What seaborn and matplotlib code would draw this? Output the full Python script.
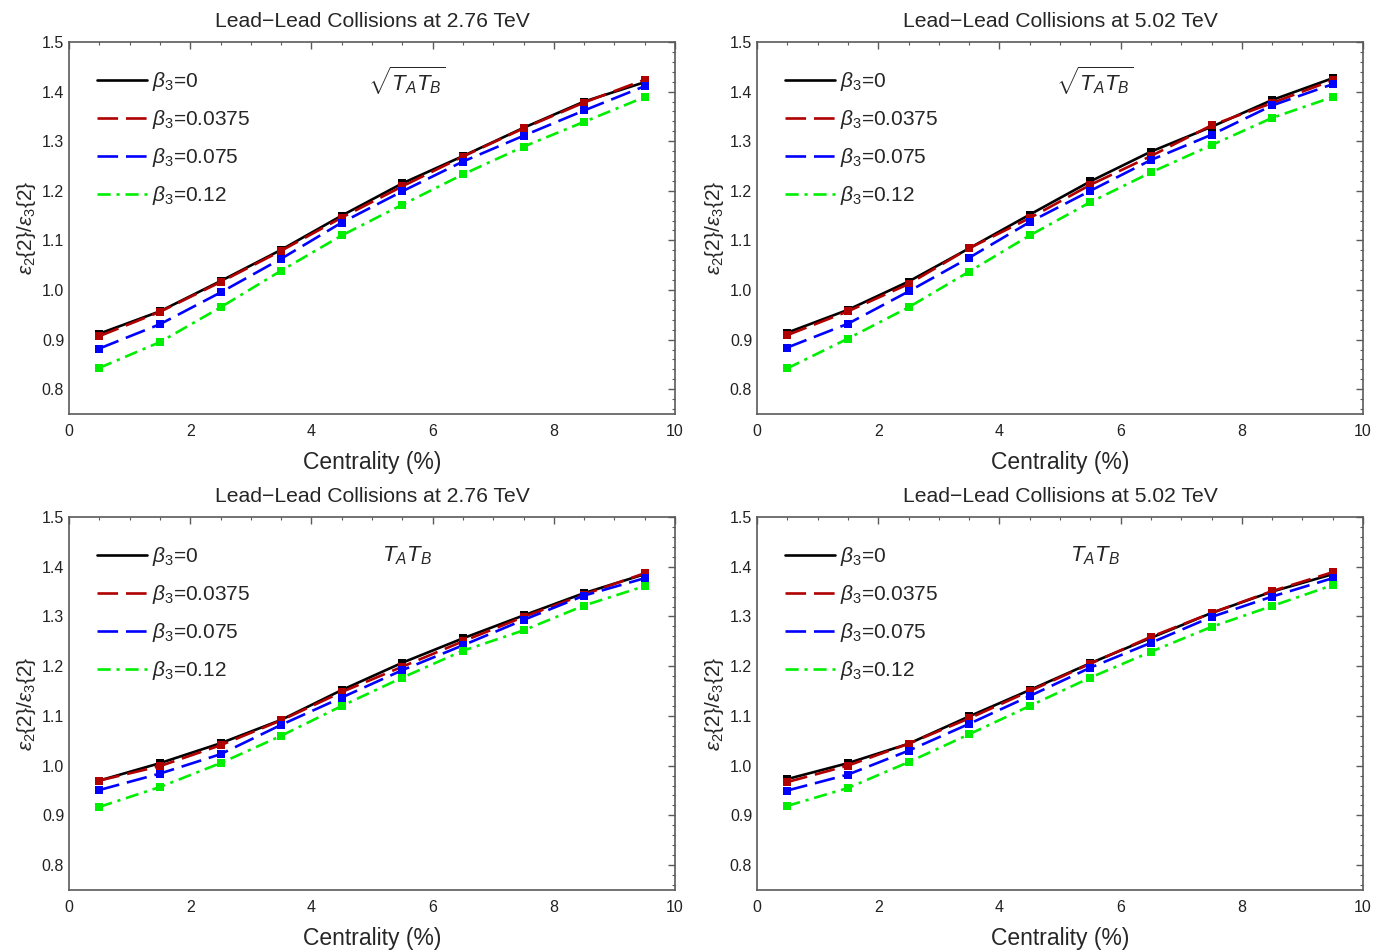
import numpy as np
import pandas as pd
import matplotlib
matplotlib.use('Agg')
import matplotlib.pyplot as plt
from matplotlib.lines import Line2D
from matplotlib.ticker import MultipleLocator, FormatStrFormatter
import seaborn as sns

# 数据
centrality = [0.5, 1.5, 2.5, 3.5, 4.5, 5.5, 6.5, 7.5, 8.5, 9.5]
betas = ['0', '0.0375', '0.075', '0.12']

# sqrt(TA TB), 2.76 TeV
sq276_b0 = [0.912, 0.957, 1.018, 1.081, 1.150, 1.215, 1.270, 1.327, 1.380, 1.419]
sq276_b1 = [0.907, 0.956, 1.016, 1.079, 1.146, 1.209, 1.269, 1.326, 1.378, 1.424]
sq276_b2 = [0.882, 0.931, 0.995, 1.063, 1.136, 1.199, 1.259, 1.311, 1.362, 1.411]
sq276_b3 = [0.843, 0.895, 0.965, 1.039, 1.110, 1.172, 1.233, 1.289, 1.339, 1.389]

# sqrt(TA TB), 5.02 TeV
sq502_b0 = [0.914, 0.960, 1.017, 1.084, 1.152, 1.219, 1.279, 1.329, 1.383, 1.427]
sq502_b1 = [0.909, 0.957, 1.012, 1.084, 1.145, 1.212, 1.270, 1.332, 1.377, 1.423]
sq502_b2 = [0.884, 0.932, 0.997, 1.065, 1.137, 1.200, 1.262, 1.313, 1.372, 1.415]
sq502_b3 = [0.842, 0.902, 0.965, 1.037, 1.110, 1.177, 1.237, 1.292, 1.347, 1.389]

# TA TB, 2.76 TeV
ta276_b0 = [0.970, 1.005, 1.045, 1.092, 1.152, 1.207, 1.256, 1.302, 1.347, 1.385]
ta276_b1 = [0.970, 0.999, 1.041, 1.091, 1.148, 1.199, 1.250, 1.299, 1.344, 1.387]
ta276_b2 = [0.951, 0.984, 1.023, 1.082, 1.137, 1.192, 1.242, 1.293, 1.342, 1.377]
ta276_b3 = [0.917, 0.957, 1.005, 1.060, 1.120, 1.177, 1.231, 1.272, 1.322, 1.361]

# TA TB, 5.02 TeV
ta502_b0 = [0.973, 1.005, 1.044, 1.099, 1.152, 1.206, 1.257, 1.307, 1.350, 1.385]
ta502_b1 = [0.967, 1.000, 1.044, 1.095, 1.150, 1.205, 1.259, 1.307, 1.351, 1.389]
ta502_b2 = [0.950, 0.982, 1.030, 1.084, 1.140, 1.197, 1.247, 1.299, 1.340, 1.377]
ta502_b3 = [0.919, 0.955, 1.007, 1.063, 1.120, 1.177, 1.229, 1.279, 1.321, 1.363]

panels = [
    ('Lead\u2212Lead Collisions at 2.76 TeV', r'$\sqrt{T_A T_B}$', [sq276_b0, sq276_b1, sq276_b2, sq276_b3]),
    ('Lead\u2212Lead Collisions at 5.02 TeV', r'$\sqrt{T_A T_B}$', [sq502_b0, sq502_b1, sq502_b2, sq502_b3]),
    ('Lead\u2212Lead Collisions at 2.76 TeV', r'$T_A T_B$', [ta276_b0, ta276_b1, ta276_b2, ta276_b3]),
    ('Lead\u2212Lead Collisions at 5.02 TeV', r'$T_A T_B$', [ta502_b0, ta502_b1, ta502_b2, ta502_b3]),
]

colors = {'0': 'black', '0.0375': '#b00000', '0.075': '#0000ff', '0.12': '#00ee00'}
dash_map = {'0': '', '0.0375': (7.8, 3.0), '0.075': (7.8, 3.0), '0.12': (5, 2.2, 1.2, 2.2)}
marker_map = {b: 's' for b in betas}
line_w = 1.9

sns.set_style('white')
plt.rcParams['font.family'] = ['Liberation Sans', 'DejaVu Sans']
plt.rcParams['mathtext.fontset'] = 'custom'
plt.rcParams['mathtext.rm'] = 'Liberation Sans'
plt.rcParams['mathtext.it'] = 'Liberation Sans:italic'
plt.rcParams['mathtext.bf'] = 'Liberation Sans:bold'

fig = plt.figure(figsize=(13.89, 9.5), dpi=100)
positions = [
    [0.0497, 0.5642, 0.4363, 0.3916],
    [0.5450, 0.5642, 0.4363, 0.3916],
    [0.0497, 0.0632, 0.4363, 0.3926],
    [0.5450, 0.0632, 0.4363, 0.3926],
]

frame_col = '#5a5a5a'
for pos, (title, note, series) in zip(positions, panels):
    ax = fig.add_axes(pos)
    rows = []
    for b, vals in zip(betas, series):
        for c, v in zip(centrality, vals):
            rows.append({'centrality': c, 'ratio': v, 'beta': b})
    df = pd.DataFrame(rows)
    sns.lineplot(data=df, x='centrality', y='ratio', hue='beta', style='beta',
                 hue_order=betas, style_order=betas, palette=colors,
                 dashes=dash_map, markers=marker_map, markersize=5.5,
                 markeredgewidth=0, linewidth=line_w, legend=False, ax=ax)

    ax.set_xlim(0, 10)
    ax.set_ylim(0.75, 1.5)
    ax.xaxis.set_major_locator(MultipleLocator(2))
    ax.xaxis.set_minor_locator(MultipleLocator(0.5))
    ax.yaxis.set_major_locator(MultipleLocator(0.1))
    ax.yaxis.set_minor_locator(MultipleLocator(0.02))
    ax.yaxis.set_major_formatter(FormatStrFormatter('%.1f'))
    ax.tick_params(which='both', direction='in', top=True, right=True,
                   color=frame_col, labelcolor='#222222', labelsize=11.5)
    ax.tick_params(which='major', length=5, width=1)
    ax.tick_params(which='minor', length=2.5, width=0.8)
    ax.tick_params(axis='x', which='major', pad=7)
    for sp in ax.spines.values():
        sp.set_color(frame_col)
        sp.set_linewidth(1.2)

    ax.set_xlabel('Centrality (%)', fontsize=16.5, labelpad=9)
    ax.set_ylabel(r'$\varepsilon_2$' + '{2}/' + r'$\varepsilon_3$' + '{2}',
                  fontsize=15, labelpad=3)
    ax.set_title(title, fontsize=15.2, pad=11)
    ax.text(0.558, 0.895, note, transform=ax.transAxes, fontsize=16,
            ha='center', va='center')

    handles = [Line2D([], [], color=colors[b], lw=line_w,
                      dashes=dash_map[b] if dash_map[b] else (None, None))
               for b in betas]
    labels = [r'$\beta_3$=' + b for b in betas]
    ax.legend(handles, labels, loc='upper left', bbox_to_anchor=(0.0, 1.0),
              frameon=False, fontsize=15, handlelength=2.4, handletextpad=0.25,
              labelspacing=0.72, borderaxespad=0.95)

fig.savefig('out.png', dpi=100)
